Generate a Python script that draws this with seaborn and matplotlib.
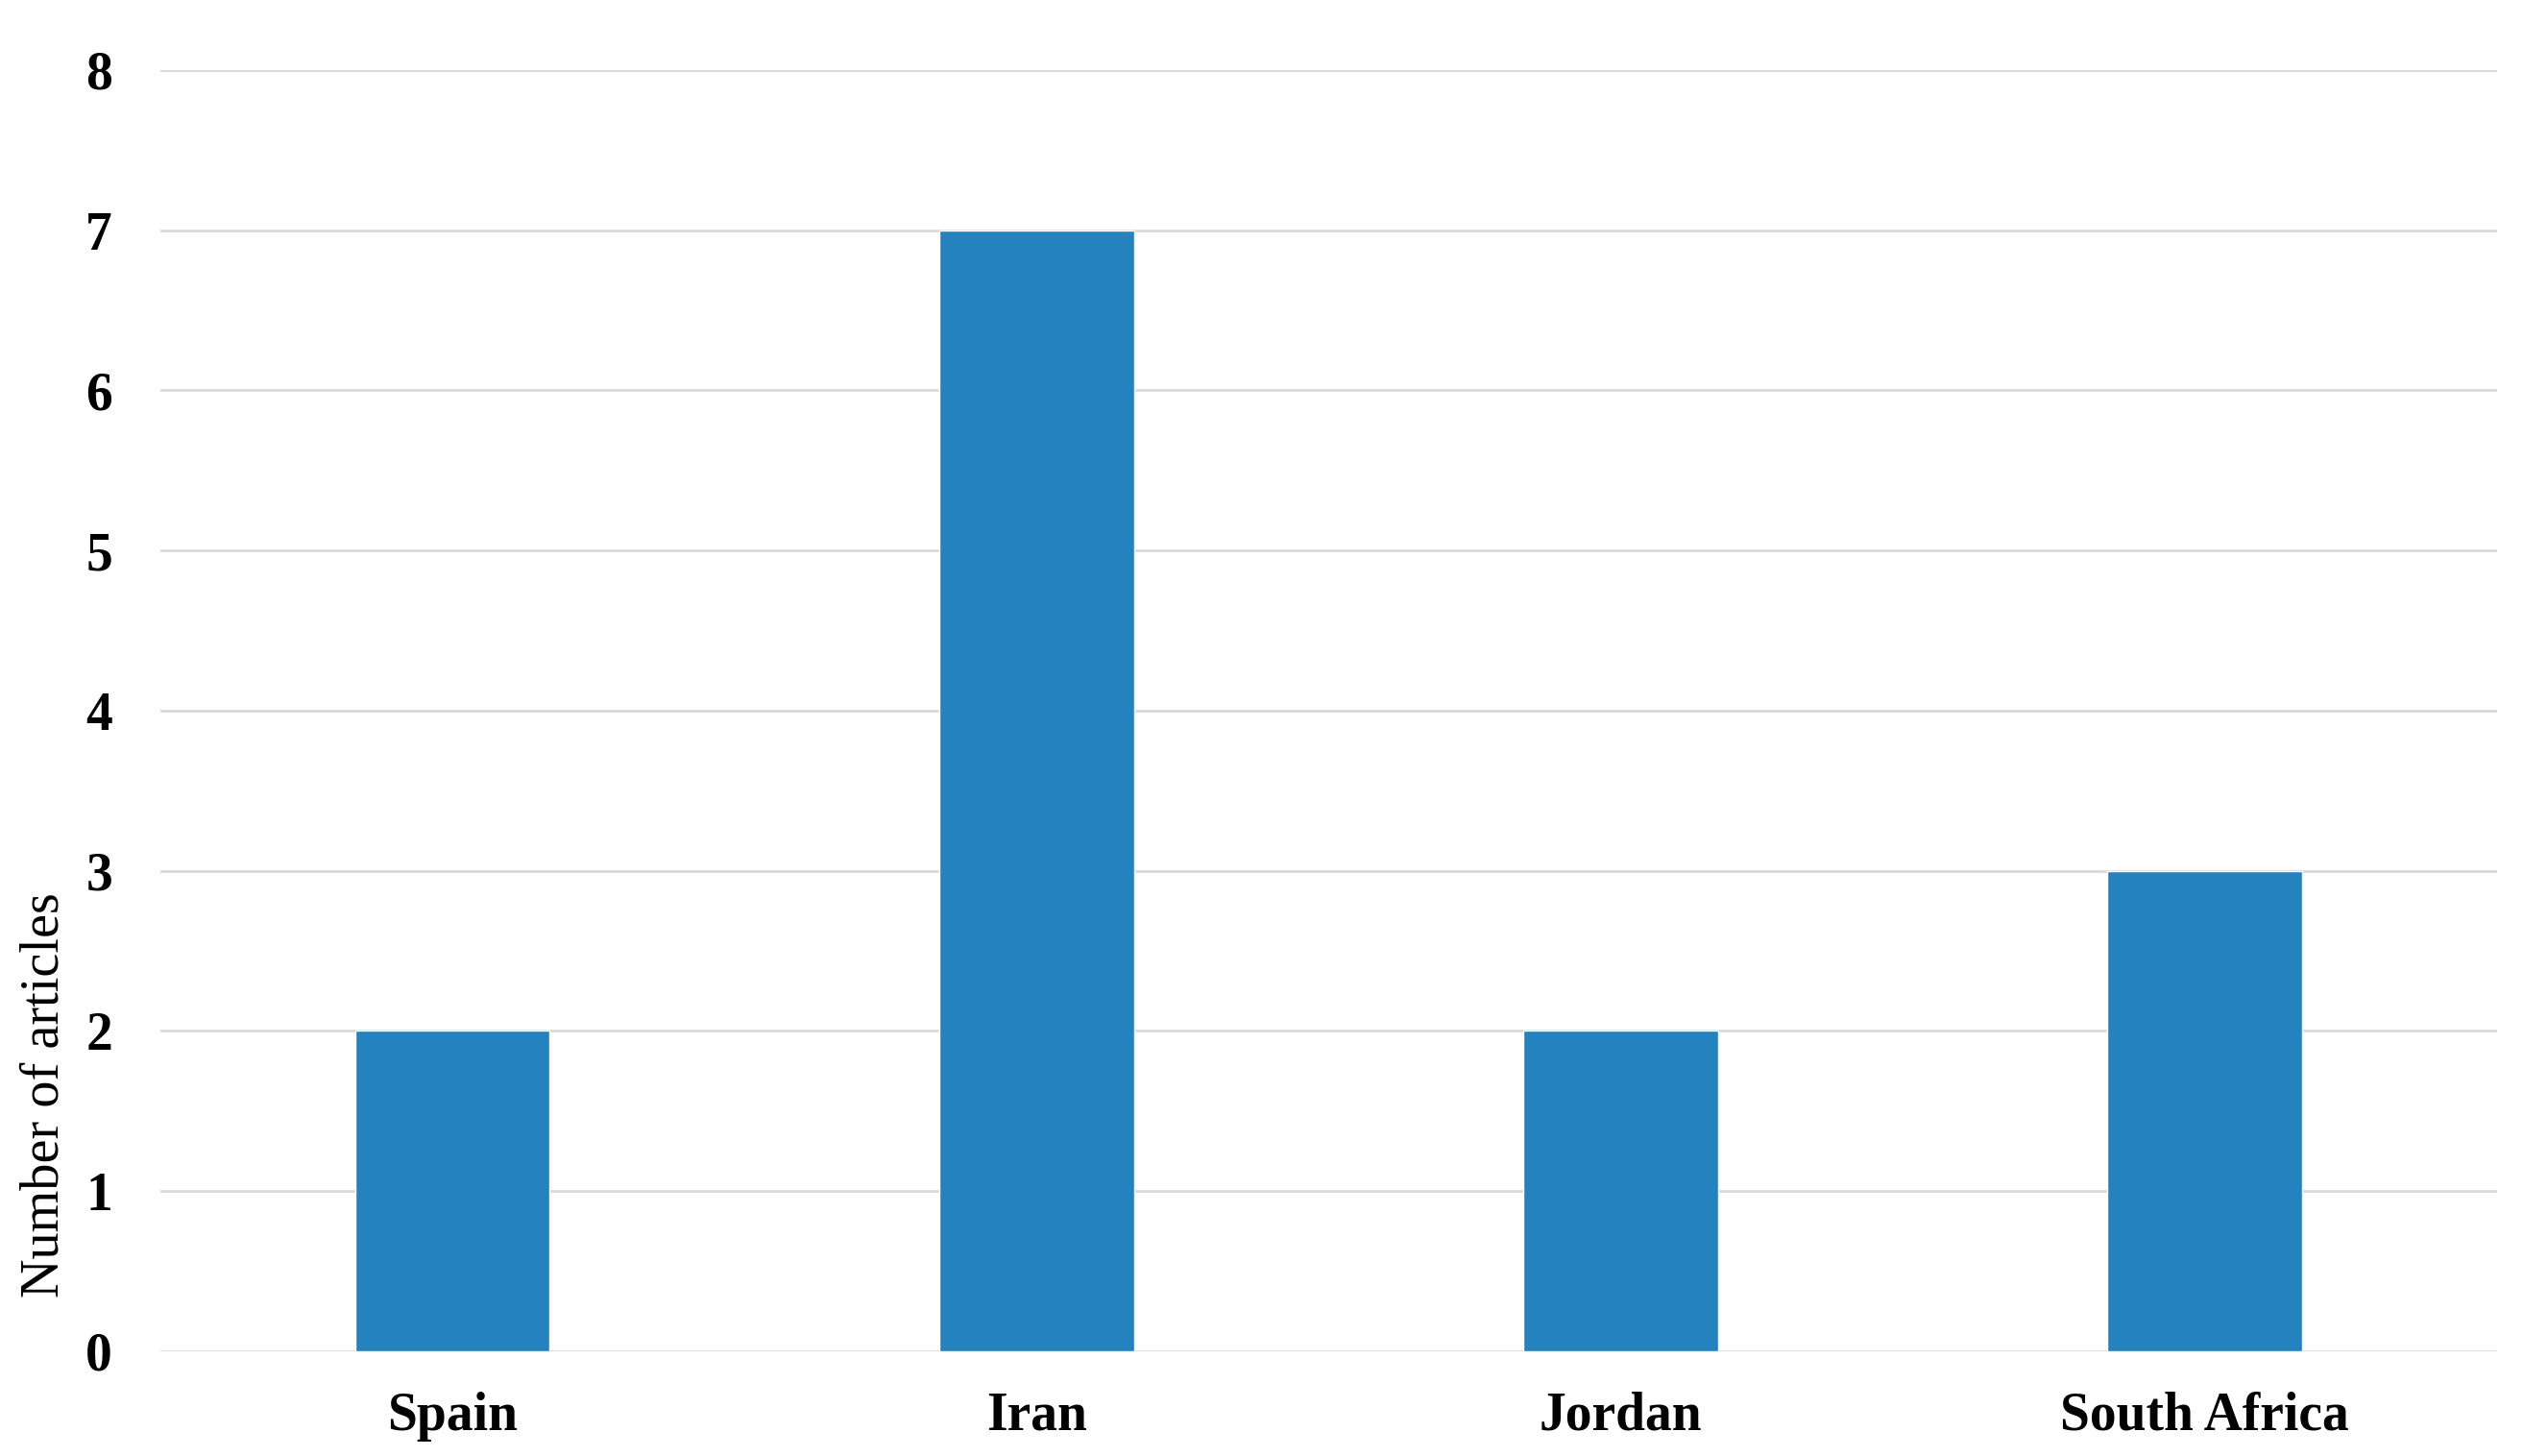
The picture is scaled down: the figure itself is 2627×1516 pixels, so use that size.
import pandas as pd
import seaborn as sns
import matplotlib.pyplot as plt

countries = ['Spain', 'Iran', 'Jordan', 'South Africa']
articles = [2, 7, 2, 3]

data = pd.DataFrame({'Country': countries, 'Articles': articles})

sns.set_style('white')
plt.rcParams['font.family'] = ['Liberation Serif', 'DejaVu Serif']
plt.rcParams['text.color'] = 'black'
plt.rcParams['xtick.color'] = 'black'
plt.rcParams['ytick.color'] = 'black'
plt.rcParams['axes.labelcolor'] = 'black'

fig = plt.figure(figsize=(26.27, 15.16), dpi=100)
ax = fig.add_axes([0.0636, 0.0719, 0.926, 0.880])

sns.barplot(data=data, x='Country', y='Articles', color='#2482BF',
            width=0.333, saturation=1, ax=ax, zorder=3)

ax.set_ylim(0, 8)
ax.set_xlim(-0.5, 3.5)
ax.set_yticks(range(0, 9))
ax.yaxis.grid(True, color='#d9d9d9', linewidth=2, zorder=0)
ax.set_axisbelow(True)
for s in ax.spines.values():
    s.set_visible(False)

ax.tick_params(axis='both', length=0, labelsize=40)
ax.tick_params(axis='y', pad=36)
ax.tick_params(axis='x', pad=30)
for lab in ax.get_xticklabels() + ax.get_yticklabels():
    lab.set_fontweight('bold')

ax.set_xlabel('')
ax.set_ylabel('Number of articles', fontsize=40.5)
ax.yaxis.set_label_coords(-0.039, 0.2)

fig.savefig('out.png', dpi=100)
